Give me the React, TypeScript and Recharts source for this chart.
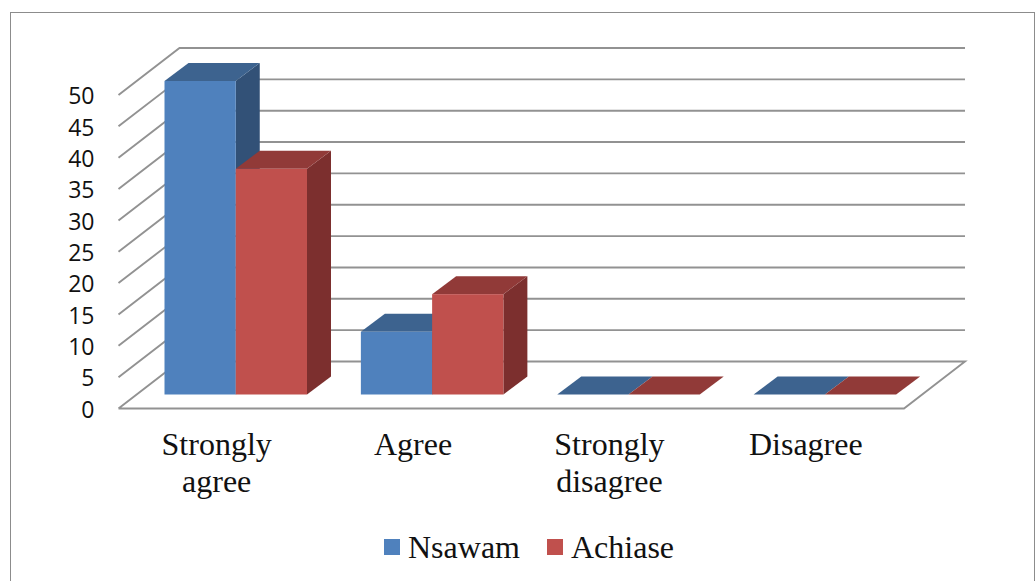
import React from 'react';
import { BarChart, Bar, XAxis, YAxis, CartesianGrid, Legend } from 'recharts';

const categories = ['Strongly agree', 'Agree', 'Strongly disagree', 'Disagree'];
const nsawam = [50, 10, 0, 0];
const achiase = [36, 16, 0, 0];
const yTicks = [0, 5, 10, 15, 20, 25, 30, 35, 40, 45, 50];

const data = categories.map((name, i) => ({ name, Nsawam: nsawam[i], Achiase: achiase[i] }));

const SERIF = '"Liberation Serif", serif';
const GRID = '#929292';

// depth of the fake 3D box
const WALL_DX = 61;
const WALL_DY = -47;
const BAR_DX = 24;
const BAR_DY = -18;
const BAR_SHIFT_X = 19;
const BAR_SHIFT_Y = -14;

const gridLine = (props: any) => {
  const { x1, x2, y1, y, height, key } = props;
  const isFloor = Math.abs(y1 - (y + height)) < 0.5;
  const back = y1 + WALL_DY;
  const d = isFloor
    ? `M${x1},${y1} L${x2},${y1} L${x2 + WALL_DX},${back} L${x1 + WALL_DX},${back} L${x1},${y1}`
    : `M${x1},${y1} L${x1 + WALL_DX},${back} L${x2 + WALL_DX},${back}`;
  return <path key={key} d={d} fill="none" stroke={GRID} strokeWidth={1.9} />;
};

const box = (front: string, top: string, side: string) => (props: any) => {
  const { width, height } = props;
  const x = props.x + BAR_SHIFT_X;
  const y = props.y + BAR_SHIFT_Y;
  const r = x + width;
  const b = y + height;
  return (
    <g>
      <polygon points={`${r},${y} ${r + BAR_DX},${y + BAR_DY} ${r + BAR_DX},${b + BAR_DY} ${r},${b}`} fill={side} />
      <polygon points={`${x},${y} ${x + BAR_DX},${y + BAR_DY} ${r + BAR_DX},${y + BAR_DY} ${r},${y}`} fill={top} />
      <rect x={x} y={y} width={width} height={height} fill={front} />
    </g>
  );
};

const CategoryTick = ({ x, y, payload }: any) => (
  <text x={x} y={y} textAnchor="middle" fontFamily={SERIF} fontSize={32} fill="#111">
    {String(payload.value).split(' ').map((word, i) => (
      <tspan key={word} x={x} dy={i === 0 ? 38 : 37}>{word}</tspan>
    ))}
  </text>
);

const LegendContent = ({ payload }: any) => (
  <div style={{ display: 'flex', fontFamily: SERIF, fontSize: 32, color: '#111', lineHeight: '36px' }}>
    {(payload || []).map((item: any, i: number) => (
      <div key={item.value} style={{ display: 'flex', alignItems: 'center', marginRight: i === 0 ? 27 : 0 }}>
        <span style={{ width: 16, height: 16, background: item.color, marginRight: 8, display: 'inline-block' }} />
        <span>{item.value}</span>
      </div>
    ))}
  </div>
);

export default function App() {
  return (
    <div style={{ position: 'absolute', left: 0, top: 0, width: 1036, height: 581, overflow: 'hidden', background: '#fff' }}>
      <div
        style={{
          position: 'absolute',
          left: 10,
          top: 12,
          width: 1023,
          height: 640,
          border: '1.5px solid #8c8c8c',
        }}
      />
      <div style={{ position: 'absolute', left: 0, top: 0 }}>
        <BarChart
          width={1036}
          height={581}
          data={data}
          barSize={71.25}
          barGap={0}
          margin={{ top: 95, right: 132, bottom: 112.5, left: 58.5 }}
        >
          <CartesianGrid vertical={false} horizontal={gridLine} />
          <XAxis dataKey="name" height={60} axisLine={false} tickLine={false} interval={0} tick={<CategoryTick />} />
          <YAxis
            width={60}
            domain={[0, 50]}
            ticks={yTicks}
            interval={0}
            axisLine={false}
            tickLine={false}
            tickSize={0}
            tickMargin={24}
            tick={{ fontFamily: '"Open Sans"', fontSize: 23, fill: '#111', dy: 1 }}
          />
          <Legend
            layout="horizontal"
            verticalAlign="middle"
            align="center"
            itemSorter={null}
            content={<LegendContent />}
            wrapperStyle={{ position: 'absolute', left: 384, top: 529, width: 320 }}
          />
          <Bar dataKey="Nsawam" fill="#4f81bd" isAnimationActive={false} shape={box('#4f81bd', '#3d638f', '#325177')} />
          <Bar dataKey="Achiase" fill="#c0504d" isAnimationActive={false} shape={box('#c0504d', '#913a38', '#7c2f2e')} />
        </BarChart>
      </div>
    </div>
  );
}
